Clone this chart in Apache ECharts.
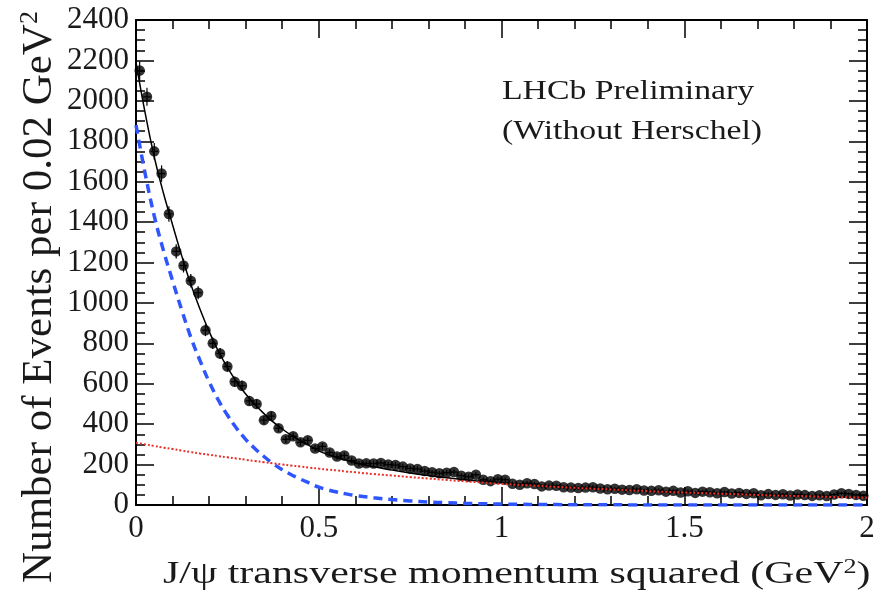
<!DOCTYPE html>
<html>
<head>
<meta charset="utf-8">
<script src="https://cdn.jsdelivr.net/npm/echarts@6/dist/echarts.min.js"></script>
<style>
  html, body { margin: 0; padding: 0; background: #ffffff; }
  #chart { width: 883px; height: 596px; }
</style>
</head>
<body>
<div id="chart"></div>
<script>
// J/psi pT^2 spectrum, events per 0.02 GeV^2 bin (bins start at 0)
const binWidth = 0.02;
const eventCounts = [
  2150, 2020, 1750, 1640, 1440, 1255, 1185, 1110, 1050, 865,
  800, 750, 685, 610, 590, 515, 500, 420, 440, 380,
  325, 340, 310, 320, 280, 290, 260, 240, 245, 220,
  205, 206, 205, 208, 200, 198, 190, 181, 178, 168,
  162, 157, 160, 163, 145, 140, 150, 125, 118, 128,
  125, 105, 100, 108, 104, 92, 96, 95, 88, 86,
  84, 86, 88, 82, 78, 80, 76, 74, 78, 72,
  70, 73, 66, 70, 62, 68, 60, 66, 63, 58,
  64, 57, 60, 55, 58, 48, 54, 50, 53, 47,
  52, 49, 45, 48, 44, 52, 58, 55, 50, 46
];

// Fit curves sampled along pT^2
const curveX = [
  0, 0.025, 0.05, 0.075, 0.1, 0.125, 0.15, 0.175, 0.2, 0.225,
  0.25, 0.275, 0.3, 0.325, 0.35, 0.375, 0.4, 0.425, 0.45, 0.475,
  0.5, 0.525, 0.55, 0.575, 0.6, 0.65, 0.7, 0.75, 0.8, 0.85,
  0.9, 0.95, 1.0, 1.05, 1.1, 1.15, 1.2, 1.25, 1.3, 1.35,
  1.4, 1.45, 1.5, 1.55, 1.6, 1.65, 1.7, 1.75, 1.8, 1.85,
  1.9, 1.95, 2.0
];
const totalFit = [
  2190, 1940, 1722, 1544, 1387, 1234, 1092, 970, 859, 762,
  681, 610, 549, 498, 452, 411, 376, 345, 318, 293,
  268, 250, 235, 221, 209, 189, 173, 158, 146, 135,
  125, 117, 110, 103, 98, 92, 86, 82, 78, 74,
  69, 65, 62, 59, 56, 53, 50, 47, 45, 43,
  40, 38, 36
];
const signalFit = [
  1880, 1640, 1430, 1260, 1110, 965, 830, 715, 610, 520,
  445, 380, 325, 280, 240, 205, 175, 150, 128, 108,
  88, 75, 64, 55, 47, 36, 27, 20, 15, 11,
  8, 6, 4.5, 3.4, 2.5, 1.9, 1.4, 1.0, 0.8, 0.6,
  0.4, 0.3, 0.2, 0.2, 0.1, 0.1, 0.1, 0.1, 0, 0,
  0, 0, 0
];
const backgroundFit = [
  308, 300, 292, 284, 277, 269, 262, 255, 249, 242,
  236, 230, 224, 218, 212, 206, 201, 195, 190, 185,
  180, 175, 171, 166, 162, 153, 146, 138, 131, 124,
  117, 111, 105, 100, 95, 90, 85, 81, 77, 73,
  69, 65, 62, 59, 56, 53, 50, 47, 45, 43,
  40, 38, 36
];

const xRange = [0, 2];
const yRange = [0, 2400];

const serif = 'Liberation Serif';
const ink = '#1a1a1a';

const points = eventCounts.map((n, i) => [binWidth / 2 + i * binWidth, n]);
const pairs = (ys) => curveX.map((x, i) => [x, ys[i]]);

const tickStyle = { color: '#000', width: 1.5 };

function frameAxis(extra) {
  return Object.assign({
    type: 'value',
    axisLine: { show: true, onZero: false, lineStyle: { color: '#000', width: 2 } },
    axisTick: { show: true, inside: true, length: 18, lineStyle: tickStyle },
    minorTick: { show: true, length: 9, lineStyle: tickStyle },
    splitLine: { show: false },
    minorSplitLine: { show: false }
  }, extra);
}

const plainNumber = (v) => String(v);

const chart = echarts.init(document.getElementById('chart'), null, { renderer: 'canvas' });

chart.setOption({
  animation: false,
  backgroundColor: '#ffffff',
  grid: { left: 136, right: 16, top: 20, bottom: 91, containLabel: false },
  xAxis: [
    frameAxis({
      position: 'bottom', min: xRange[0], max: xRange[1], interval: 0.5,
      minorTick: { show: true, splitNumber: 5, length: 9, lineStyle: tickStyle },
      axisLabel: { fontFamily: serif, fontSize: 31, color: ink, margin: 8, formatter: plainNumber }
    }),
    frameAxis({
      position: 'top', min: xRange[0], max: xRange[1], interval: 0.5,
      minorTick: { show: true, splitNumber: 5, length: 9, lineStyle: tickStyle },
      axisLabel: { show: false }
    })
  ],
  yAxis: [
    frameAxis({
      position: 'left', min: yRange[0], max: yRange[1], interval: 200,
      minorTick: { show: true, splitNumber: 4, length: 9, lineStyle: tickStyle },
      axisLabel: { fontFamily: serif, fontSize: 31, color: ink, margin: 7, formatter: plainNumber }
    }),
    frameAxis({
      position: 'right', min: yRange[0], max: yRange[1], interval: 200,
      minorTick: { show: true, splitNumber: 4, length: 9, lineStyle: tickStyle },
      axisLabel: { show: false }
    })
  ],
  series: [
    {
      // statistical error bars (sqrt N) and bin half-widths
      type: 'custom',
      xAxisIndex: 0, yAxisIndex: 0,
      data: points,
      z: 2,
      renderItem: function (params, api) {
        const x = api.value(0), n = api.value(1), e = Math.sqrt(n);
        const top = api.coord([x, n + e]);
        const bot = api.coord([x, n - e]);
        const lft = api.coord([x - binWidth / 2, n]);
        const rgt = api.coord([x + binWidth / 2, n]);
        return {
          type: 'group',
          children: [
            { type: 'line', shape: { x1: top[0], y1: top[1], x2: bot[0], y2: bot[1] }, style: { stroke: '#000', lineWidth: 1.2 } },
            { type: 'line', shape: { x1: lft[0], y1: lft[1], x2: rgt[0], y2: rgt[1] }, style: { stroke: '#000', lineWidth: 1.2 } }
          ]
        };
      }
    },
    {
      type: 'scatter',
      data: points,
      symbol: 'circle',
      symbolSize: 10.5,
      itemStyle: { color: '#000' },
      z: 3
    },
    {
      type: 'line',
      data: pairs(totalFit),
      smooth: 0.4,
      showSymbol: false,
      lineStyle: { color: '#000', width: 1.5 },
      z: 4
    },
    {
      type: 'line',
      data: pairs(signalFit),
      smooth: 0.4,
      showSymbol: false,
      lineStyle: { color: '#2f55ff', width: 3.5, type: [9, 6] },
      z: 5
    },
    {
      type: 'line',
      data: pairs(backgroundFit),
      smooth: 0.4,
      showSymbol: false,
      lineStyle: { color: '#e8302a', width: 2, type: [2, 2] },
      z: 6
    }
  ],
  graphic: [
    {
      type: 'text',
      x: 163, y: 575,
      scaleX: 1.31,
      style: {
        text: 'J/ψ transverse momentum squared (GeV{sup|2})',
        fontFamily: serif, fontSize: 32, fill: ink,
        textAlign: 'left', textVerticalAlign: 'middle',
        rich: { sup: { fontFamily: serif, fontSize: 20, fill: ink, padding: [0, 0, 14, 0] } }
      }
    },
    {
      type: 'text',
      x: 40, y: 297,
      rotation: Math.PI / 2,
      style: {
        text: 'Number of Events per 0.02 GeV{sup|2}',
        fontFamily: serif, fontSize: 43, fill: ink,
        textAlign: 'center', textVerticalAlign: 'middle',
        rich: { sup: { fontFamily: serif, fontSize: 26, fill: ink, padding: [0, 0, 20, 0] } }
      }
    },
    {
      type: 'text',
      x: 502, y: 92,
      scaleX: 1.25,
      style: {
        text: 'LHCb Preliminary',
        fontFamily: serif, fontSize: 27, fill: ink,
        textAlign: 'left', textVerticalAlign: 'middle'
      }
    },
    {
      type: 'text',
      x: 502, y: 132,
      scaleX: 1.25,
      style: {
        text: '(Without Herschel)',
        fontFamily: serif, fontSize: 27, fill: ink,
        textAlign: 'left', textVerticalAlign: 'middle'
      }
    }
  ]
});
</script>
</body>
</html>
